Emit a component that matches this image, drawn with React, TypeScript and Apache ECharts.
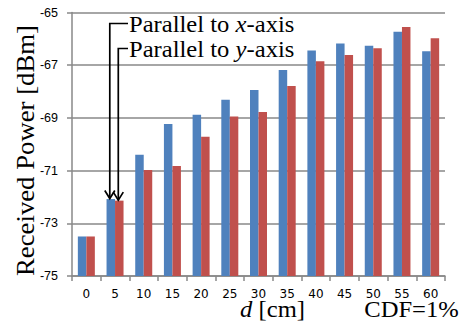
import React, { useEffect, useRef } from 'react';
import * as echarts from 'echarts';

// Distance d [cm]
const categories = ['0', '5', '10', '15', '20', '25', '30', '35', '40', '45', '50', '55', '60'];
// Received power [dBm], CDF = 1%
const parallelToX = [-73.5, -72.08, -70.4, -69.23, -68.88, -68.31, -67.94, -67.18, -66.44, -66.18, -66.26, -65.73, -66.47];
const parallelToY = [-73.5, -72.14, -70.98, -70.83, -69.72, -68.95, -68.78, -67.79, -66.85, -66.61, -66.36, -65.55, -65.98];
// Y axis ticks
const yTickMin = -75;
const yTickMax = -65;
const yTickStep = 2;

const BLUE = '#4F81BD';
const RED = '#C0504D';
const AXIS = '#888888';
const SERIF = 'Liberation Serif';

export default function App() {
  const ref = useRef<HTMLDivElement>(null);
  useEffect(() => {
    const el = ref.current;
    if (!el) return;
    const chart = echarts.init(el, null, { renderer: 'svg' });
    const base = yTickMin;
    const barW = 8.5;
    chart.setOption({
      animation: false,
      backgroundColor: '#ffffff',
      grid: { left: 72, right: 22, top: 12.5, bottom: 50 },
      xAxis: {
        type: 'category',
        data: categories,
        axisLine: { show: true, lineStyle: { color: AXIS, width: 1.5 } },
        axisTick: { show: true, length: 5, lineStyle: { color: AXIS, width: 1.5 } },
        axisLabel: { color: '#000', fontFamily: 'DejaVu Sans', fontSize: 12, margin: 12 },
        splitLine: { show: false },
      },
      yAxis: {
        type: 'value',
        min: 0,
        max: yTickMax - base,
        interval: yTickStep,
        axisLine: { show: true, lineStyle: { color: AXIS, width: 1.5 } },
        axisTick: { show: true, length: 5, lineStyle: { color: AXIS, width: 1.5 } },
        axisLabel: {
          color: '#000',
          fontFamily: 'Liberation Sans',
          fontSize: 12.5,
          margin: 14,
          formatter: (v: number) => String(Math.round(v + base)),
        },
        splitLine: { show: true, lineStyle: { color: AXIS, width: 1.5 } },
      },
      series: [
        {
          name: 'Parallel to x-axis',
          type: 'bar',
          data: parallelToX.map((v) => v - base),
          barWidth: barW,
          barGap: '0%',
          itemStyle: { color: BLUE },
        },
        {
          name: 'Parallel to y-axis',
          type: 'bar',
          data: parallelToY.map((v) => v - base),
          barWidth: barW,
          barGap: '0%',
          itemStyle: { color: RED },
        },
      ],
    });

    const cx = chart.convertToPixel({ xAxisIndex: 0 }, 1) as number;
    const lx1 = cx - barW / 2 - 1;
    const lx2 = cx + barW / 2 - 1;
    const ty1 = (chart.convertToPixel({ yAxisIndex: 0 }, parallelToX[1] - base) as number) - 0.5;
    const ty2 = (chart.convertToPixel({ yAxisIndex: 0 }, parallelToY[1] - base) as number) - 0.5;
    const textX = 129;
    const y1 = 23.5;
    const y2 = 48.5;
    const lineStyle = { stroke: '#000', lineWidth: 1.7, fill: 'none' };
    const rich = {
      n: { fontFamily: SERIF, fontSize: 23, fill: '#000' },
      i: { fontFamily: SERIF, fontSize: 23, fontStyle: 'italic', fill: '#000' },
    };

    chart.setOption({
      graphic: [
        { type: 'polyline', shape: { points: [[textX - 1, y1], [lx1, y1], [lx1, ty1]] }, style: lineStyle, z: 100 },
        { type: 'polyline', shape: { points: [[lx1 - 5, ty1 - 8], [lx1, ty1], [lx1 + 5, ty1 - 8]] }, style: lineStyle, z: 100 },
        { type: 'polyline', shape: { points: [[textX - 1, y2], [lx2, y2], [lx2, ty2]] }, style: lineStyle, z: 100 },
        { type: 'polyline', shape: { points: [[lx2 - 5, ty2 - 8], [lx2, ty2], [lx2 + 5, ty2 - 8]] }, style: lineStyle, z: 100 },
        {
          type: 'text', x: textX, y: y1 + 0.5, scaleX: 1.07, z: 100,
          style: { text: '{n|Parallel to }{i|x}{n|-axis}', rich, fontFamily: SERIF, fontSize: 23, align: 'left', verticalAlign: 'middle' },
        },
        {
          type: 'text', x: textX, y: y2 + 0.5, scaleX: 1.07, z: 100,
          style: { text: '{n|Parallel to }{i|y}{n|-axis}', rich, fontFamily: SERIF, fontSize: 23, align: 'left', verticalAlign: 'middle' },
        },
        {
          type: 'text', x: 26, y: 150.5, rotation: Math.PI / 2, scaleX: 1.07, z: 100,
          style: { text: 'Received Power [dBm]', fontFamily: SERIF, fontSize: 25, fill: '#000', align: 'center', verticalAlign: 'middle' },
        },
        {
          type: 'text', x: 272.5, y: 309.5, scaleX: 1.07, z: 100,
          style: { text: '{i|d}{n| [cm]}', rich, fontFamily: SERIF, fontSize: 23, align: 'center', verticalAlign: 'middle' },
        },
        {
          type: 'text', x: 411.5, y: 309.5, scaleX: 1.07, z: 100,
          style: { text: 'CDF=1%', fontFamily: SERIF, fontSize: 23, fill: '#000', align: 'center', verticalAlign: 'middle' },
        },
      ],
    });

    return () => chart.dispose();
  }, []);

  return <div ref={ref} style={{ position: 'absolute', left: 0, top: 0, width: 467, height: 326 }} />;
}
